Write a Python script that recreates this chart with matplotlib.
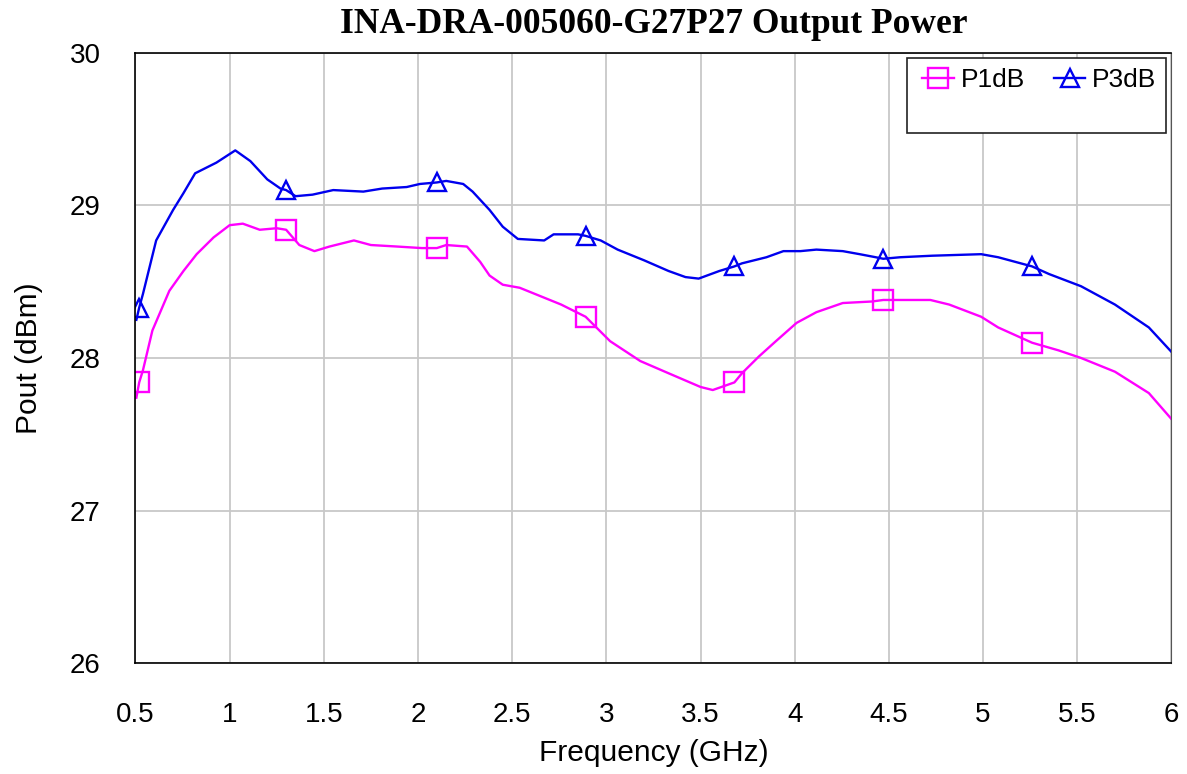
import matplotlib.pyplot as plt
from matplotlib.patches import Rectangle
import numpy as np

# P1dB trace (GHz, dBm)
p1_freq = [0.505, 0.52, 0.54, 0.59, 0.68, 0.755, 0.825, 0.915, 1.0, 1.07, 1.16, 1.25, 1.30,
           1.37, 1.45, 1.53, 1.66, 1.75, 1.89, 2.02, 2.10, 2.15, 2.26, 2.33, 2.38,
           2.45, 2.54, 2.62, 2.76, 2.89, 3.02, 3.18, 3.33, 3.50, 3.565, 3.68, 3.72, 3.81,
           3.90, 4.01, 4.115, 4.255, 4.41, 4.47, 4.59, 4.72, 4.82, 4.99, 5.08, 5.26,
           5.40, 5.52, 5.70, 5.88, 6.0]
p1_dbm = [27.74, 27.84, 27.92, 28.18, 28.44, 28.57, 28.68, 28.79, 28.87, 28.88, 28.84, 28.85, 28.84,
          28.74, 28.70, 28.73, 28.77, 28.74, 28.73, 28.72, 28.72, 28.74, 28.73, 28.63, 28.54,
          28.48, 28.46, 28.42, 28.35, 28.27, 28.11, 27.98, 27.90, 27.81, 27.79, 27.84, 27.90, 28.01,
          28.11, 28.23, 28.30, 28.36, 28.37, 28.38, 28.38, 28.38, 28.35, 28.27, 28.20, 28.10,
          28.05, 28.00, 27.91, 27.77, 27.60]

# P3dB trace (GHz, dBm)
p3_freq = [0.505, 0.52, 0.54, 0.61, 0.70, 0.755, 0.817, 0.93, 1.03, 1.11, 1.20, 1.27, 1.30,
           1.35, 1.44, 1.55, 1.71, 1.81, 1.94, 2.01, 2.10, 2.15, 2.24, 2.29, 2.38,
           2.45, 2.53, 2.67, 2.72, 2.85, 2.89, 2.97, 3.06, 3.20, 3.33, 3.42, 3.49,
           3.60, 3.68, 3.72, 3.85, 3.94, 4.03, 4.115, 4.255, 4.345, 4.43, 4.47, 4.56, 4.73, 4.99,
           5.08, 5.20, 5.26, 5.35, 5.52, 5.70, 5.88, 6.0]
p3_dbm = [28.25, 28.33, 28.42, 28.77, 28.97, 29.08, 29.21, 29.28, 29.36, 29.29, 29.17, 29.11, 29.10,
          29.06, 29.07, 29.10, 29.09, 29.11, 29.12, 29.14, 29.15, 29.16, 29.14, 29.09, 28.97,
          28.86, 28.78, 28.77, 28.81, 28.81, 28.80, 28.77, 28.71, 28.64, 28.57, 28.53, 28.52,
          28.57, 28.60, 28.62, 28.66, 28.70, 28.70, 28.71, 28.70, 28.68, 28.66, 28.65, 28.66, 28.67, 28.68,
          28.66, 28.62, 28.60, 28.55, 28.47, 28.35, 28.20, 28.04]

marker_freq = [0.52, 1.30, 2.10, 2.89, 3.68, 4.47, 5.26]

x_ticks = [0.5, 1, 1.5, 2, 2.5, 3, 3.5, 4, 4.5, 5, 5.5, 6]
x_tick_labels = ["0.5", "1", "1.5", "2", "2.5", "3", "3.5", "4", "4.5", "5", "5.5", "6"]
y_ticks = [26, 27, 28, 29, 30]


def marker_index(freqs):
    return [int(np.argmin(np.abs(np.array(freqs) - f))) for f in marker_freq]


plt.rcParams["font.family"] = ["Liberation Sans", "DejaVu Sans"]

fig = plt.figure(figsize=(11.87, 7.74), dpi=100)
ax = fig.add_axes([0.1141, 0.1431, 0.8728, 0.7888])

ax.plot(p1_freq, p1_dbm, color="#ff00ff", lw=1.7, marker="s", markersize=14.5,
        markerfacecolor="none", markeredgewidth=1.7, markevery=marker_index(p1_freq),
        label="P1dB")
ax.plot(p3_freq, p3_dbm, color="#0000ee", lw=1.7, marker="^", markersize=13.5,
        markerfacecolor="none", markeredgewidth=1.7, markevery=marker_index(p3_freq),
        label="P3dB")

ax.set_xlim(0.5, 6)
ax.set_ylim(26, 30)
ax.set_xticks(x_ticks)
ax.set_xticklabels(x_tick_labels)
ax.set_yticks(y_ticks)
ax.tick_params(length=0, labelsize=20)
ax.tick_params(axis="x", pad=28)
ax.tick_params(axis="y", pad=25)
ax.grid(True, color="#c8c8c8", lw=1.3)
ax.set_axisbelow(True)
for side in ("left", "bottom", "top"):
    ax.spines[side].set_color("black")
    ax.spines[side].set_linewidth(1.2)
ax.spines["right"].set_color("#555555")

ax.set_xlabel("Frequency (GHz)", fontsize=21.5, labelpad=8)
ax.set_ylabel("Pout (dBm)", fontsize=21.5, labelpad=19)
ax.set_title("INA-DRA-005060-G27P27 Output Power", fontsize=25.5, fontweight="bold",
             family=["Liberation Serif", "DejaVu Serif"], pad=14)

# legend box is taller than its single row of entries
ax.add_patch(Rectangle((0.745, 0.869), 0.250, 0.1218, transform=ax.transAxes,
                       facecolor="white", edgecolor="#222222", lw=1.2, zorder=4))
leg = ax.legend(loc="center left", bbox_to_anchor=(0.7594, 0.9553), ncol=2, frameon=False,
                fontsize=19, handlelength=1.2, handletextpad=0.25, columnspacing=1.1,
                borderpad=0, borderaxespad=0)
leg.set_zorder(5)

fig.savefig("out.png", dpi=100)
